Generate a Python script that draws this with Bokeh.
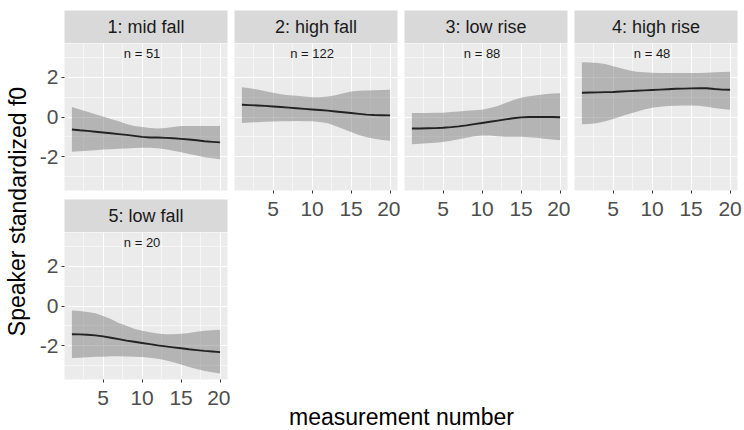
from bokeh.plotting import figure
from bokeh.layouts import row, column
from bokeh.models import Range1d, FixedTicker, ColumnDataSource
from bokeh.core.properties import value
from bokeh.embed import file_html
from bokeh.resources import INLINE

# ---------------- data ----------------
measurement = list(range(1, 21))

panel_titles = ["1: mid fall", "2: high fall", "3: low rise", "4: high rise", "5: low fall"]
panel_n = [51, 122, 88, 48, 20]

mid_fall_fit = [-0.63, -0.67, -0.70, -0.74, -0.78, -0.82, -0.86, -0.90, -0.95, -1.00,
                -1.03, -1.03, -1.05, -1.07, -1.10, -1.13, -1.17, -1.22, -1.25, -1.28]
mid_fall_lo = [-1.75, -1.72, -1.70, -1.67, -1.64, -1.62, -1.60, -1.58, -1.56, -1.55,
               -1.55, -1.57, -1.62, -1.70, -1.78, -1.86, -1.94, -2.02, -2.08, -2.13]
mid_fall_hi = [0.50, 0.38, 0.26, 0.14, 0.02, -0.10, -0.22, -0.35, -0.45, -0.50,
               -0.55, -0.58, -0.55, -0.50, -0.45, -0.45, -0.45, -0.45, -0.45, -0.45]

high_fall_fit = [0.62, 0.60, 0.58, 0.56, 0.53, 0.50, 0.47, 0.44, 0.41, 0.38,
                 0.35, 0.32, 0.28, 0.24, 0.20, 0.16, 0.12, 0.10, 0.09, 0.08]
high_fall_lo = [-0.30, -0.28, -0.26, -0.24, -0.23, -0.22, -0.21, -0.20, -0.21, -0.22,
                -0.25, -0.32, -0.45, -0.60, -0.75, -0.90, -1.02, -1.10, -1.16, -1.20]
high_fall_hi = [1.50, 1.45, 1.38, 1.30, 1.22, 1.15, 1.10, 1.07, 1.03, 1.00,
                1.00, 1.03, 1.10, 1.20, 1.28, 1.32, 1.34, 1.35, 1.36, 1.37]

low_rise_fit = [-0.58, -0.58, -0.57, -0.56, -0.54, -0.51, -0.47, -0.42, -0.36, -0.30,
                -0.24, -0.18, -0.12, -0.06, -0.02, 0.00, 0.00, 0.00, 0.00, -0.01]
low_rise_lo = [-1.37, -1.35, -1.32, -1.30, -1.26, -1.20, -1.12, -1.04, -0.97, -0.93,
               -0.93, -0.97, -1.00, -1.00, -1.00, -1.02, -1.05, -1.09, -1.13, -1.17]
low_rise_hi = [0.20, 0.20, 0.20, 0.21, 0.22, 0.25, 0.28, 0.31, 0.34, 0.37,
               0.45, 0.55, 0.70, 0.85, 0.97, 1.05, 1.10, 1.15, 1.18, 1.20]

high_rise_fit = [1.22, 1.23, 1.24, 1.25, 1.26, 1.28, 1.30, 1.32, 1.34, 1.36,
                 1.38, 1.40, 1.42, 1.43, 1.44, 1.45, 1.45, 1.41, 1.38, 1.37]
high_rise_lo = [-0.37, -0.35, -0.30, -0.22, -0.10, 0.02, 0.15, 0.27, 0.38, 0.47,
                0.52, 0.55, 0.57, 0.58, 0.58, 0.57, 0.52, 0.45, 0.40, 0.37]
high_rise_hi = [2.75, 2.74, 2.72, 2.67, 2.55, 2.45, 2.35, 2.28, 2.25, 2.23,
                2.22, 2.22, 2.22, 2.22, 2.22, 2.22, 2.23, 2.25, 2.27, 2.28]

low_fall_fit = [-1.42, -1.43, -1.45, -1.48, -1.53, -1.60, -1.67, -1.74, -1.80, -1.86,
                -1.92, -1.98, -2.03, -2.08, -2.13, -2.18, -2.22, -2.26, -2.29, -2.32]
low_fall_lo = [-2.62, -2.60, -2.58, -2.56, -2.55, -2.53, -2.53, -2.54, -2.55, -2.57,
               -2.60, -2.66, -2.73, -2.83, -2.95, -3.07, -3.17, -3.27, -3.34, -3.40]
low_fall_hi = [-0.23, -0.25, -0.30, -0.37, -0.50, -0.65, -0.85, -1.00, -1.15, -1.25,
               -1.32, -1.38, -1.42, -1.42, -1.40, -1.36, -1.30, -1.25, -1.22, -1.20]

x_major_ticks = [5, 10, 15, 20]
x_minor_ticks = [2.5, 7.5, 12.5, 17.5]
y_major_ticks = [-2, 0, 2]
y_minor_ticks = [-3, -1, 1, 3]
y_tick_labels = {-2: "-2", 0: "0", 2: "2"}

x_title = "measurement number"
y_title = "Speaker standardized f0"

# ---------------- style ----------------
FONT = "Liberation Sans"
PANEL_BG = "#EBEBEB"
STRIP_BG = "#D9D9D9"
BAND = "#707070"
BAND_ALPHA = 0.45
LINE = "#222222"
TICK_TXT = "#4D4D4D"
FW, FH = 163, 147
N_LABEL_X, N_LABEL_Y = 10, 3.22
AXIS_BORDER = 42


def base_fig(**kw):
    f = figure(toolbar_location=None, output_backend="svg", title=None,
               border_fill_color="white", outline_line_color=None, **kw)
    return f


def make_strip(label, left, right, top):
    s = base_fig(frame_width=FW, frame_height=33, min_border_left=left,
                 min_border_right=right, min_border_top=top, min_border_bottom=0,
                 x_range=Range1d(0, 1), y_range=Range1d(0, 1),
                 x_axis_location=None, y_axis_location=None,
                 background_fill_color=STRIP_BG)
    s.grid.visible = False
    s.text(x=[0.5], y=[0.5], text=[label], text_align="center", text_baseline="middle",
           text_font=value(FONT), text_font_size="18px", text_color="#1A1A1A")
    return s


def make_panel(idx, fit, lo, hi, show_x, show_y, left, right, bottom):
    p = base_fig(frame_width=FW, frame_height=FH, min_border_left=left,
                 min_border_right=right, min_border_top=0, min_border_bottom=bottom,
                 x_range=Range1d(0.05, 20.95), y_range=Range1d(-3.7, 3.7),
                 x_axis_location="below" if show_x else None,
                 y_axis_location="left" if show_y else None,
                 background_fill_color=PANEL_BG)
    p.xgrid.ticker = FixedTicker(ticks=x_major_ticks, minor_ticks=x_minor_ticks)
    p.ygrid.ticker = FixedTicker(ticks=y_major_ticks, minor_ticks=y_minor_ticks)
    for g in (p.xgrid, p.ygrid):
        g.grid_line_color = "white"
        g.grid_line_width = 1.1
        g.minor_grid_line_color = "white"
        g.minor_grid_line_width = 0.55
    axes = []
    if show_x:
        p.xaxis.ticker = FixedTicker(ticks=x_major_ticks)
        p.xaxis.major_label_standoff = 8
        axes.append(p.xaxis)
    if show_y:
        p.yaxis.ticker = FixedTicker(ticks=y_major_ticks)
        p.yaxis.major_label_overrides = y_tick_labels
        p.yaxis.major_label_standoff = 3
        axes.append(p.yaxis)
    for ax in axes:
        ax.axis_line_color = None
        ax.major_tick_line_color = "#333333"
        ax.major_tick_in = 0
        ax.major_tick_out = 3
        ax.minor_tick_line_color = None
        ax.major_label_text_font = FONT
        ax.major_label_text_font_size = "21px"
        ax.major_label_text_color = TICK_TXT

    src = ColumnDataSource(dict(x=measurement, fit=fit, lo=lo, hi=hi))
    p.varea(x="x", y1="lo", y2="hi", source=src, fill_color=BAND, fill_alpha=BAND_ALPHA)
    p.line(x="x", y="fit", source=src, line_color=LINE, line_width=1.9)
    p.text(x=[N_LABEL_X], y=[N_LABEL_Y], text=[f"n = {panel_n[idx]}"],
           text_align="center", text_baseline="middle", text_font=value(FONT),
           text_font_size="13px", text_color="#1A1A1A")
    return p


series = [
    (mid_fall_fit, mid_fall_lo, mid_fall_hi),
    (high_fall_fit, high_fall_lo, high_fall_hi),
    (low_rise_fit, low_rise_lo, low_rise_hi),
    (high_rise_fit, high_rise_lo, high_rise_hi),
    (low_fall_fit, low_fall_lo, low_fall_hi),
]

# left column: panels 1 and 5
s1 = make_strip(panel_titles[0], 32, 3, 10)
p1 = make_panel(0, *series[0], show_x=False, show_y=True, left=32, right=3, bottom=9)
s5 = make_strip(panel_titles[4], 32, 3, 0)
p5 = make_panel(4, *series[4], show_x=True, show_y=True, left=32, right=3, bottom=AXIS_BORDER)
left_col = column(s1, p1, s5, p5)

right_cols = []
for i, rb in zip([1, 2, 3], [3, 3, 7]):
    s = make_strip(panel_titles[i], 4, rb, 10)
    p = make_panel(i, *series[i], show_x=True, show_y=False, left=4, right=rb, bottom=AXIS_BORDER)
    right_cols.append(column(s, p))

# height used by each right column: 10 + 33 + FH + AXIS_BORDER
right_used = 10 + 33 + FH + AXIS_BORDER
xt_h = 430 - right_used

# x-axis title, placed under the right-hand panels (it lies right of panel 5)
xt = base_fig(width=514, height=xt_h, min_border=0, x_range=Range1d(0, 514),
              y_range=Range1d(0, xt_h), x_axis_location=None, y_axis_location=None,
              background_fill_color="white")
xt.grid.visible = False
xt.text(x=[171], y=[14], text=[x_title], text_align="center", text_baseline="middle",
        text_font=value(FONT), text_font_size="23px", text_color="black")

# y-axis title
yt = base_fig(width=32, height=410, min_border=0, x_range=Range1d(0, 32),
              y_range=Range1d(0, 410), x_axis_location=None, y_axis_location=None,
              background_fill_color="white")
yt.grid.visible = False
yt.text(x=[17], y=[199], text=[y_title], angle=1.5707963, text_align="center",
        text_baseline="middle", text_font=value(FONT), text_font_size="23px",
        text_color="black")

layout = row(yt, left_col, column(row(*right_cols), xt))

open("out.html", "w").write(file_html(layout, INLINE))
